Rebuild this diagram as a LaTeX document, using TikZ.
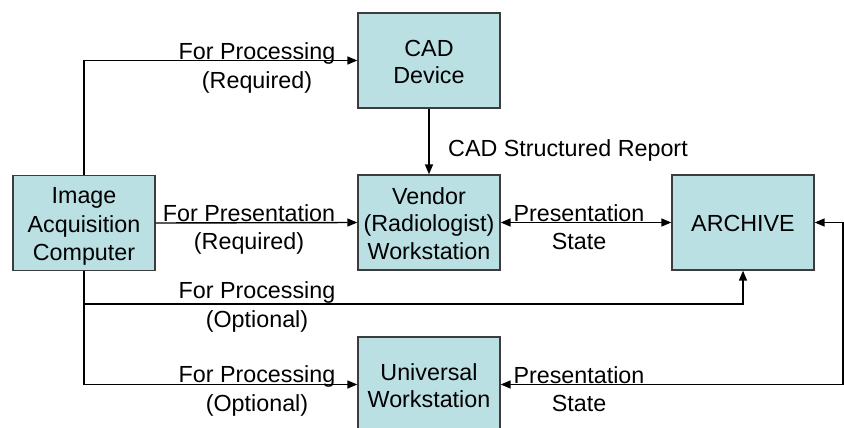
\documentclass[tikz,border=0pt]{standalone}
\usepackage{fontspec}
\setmainfont{Liberation Sans}
\usetikzlibrary{arrows.meta}
\definecolor{boxfill}{RGB}{186,224,228}
\definecolor{boxline}{RGB}{60,60,60}
\newcommand\lnstrut{\rule[-4.15pt]{0pt}{27pt}}
\tikzset{
  unit/.style={x=1pt,y=-1pt},
  box/.style={draw=boxline,line width=1.3pt,fill=boxfill,minimum width=142pt,minimum height=95pt,inner sep=0pt,align=center,font=\fontsize{23.3}{27}\selectfont},
  lbl/.style={align=center,inner sep=0pt,font=\fontsize{23.3}{27.5}\selectfont},
  conn/.style={line width=1.4pt,-{Triangle[length=10pt,width=8pt]}},
  conn2/.style={line width=1.4pt,{Triangle[length=10pt,width=8pt]}-{Triangle[length=10pt,width=8pt]}}
}
\begin{document}
\begin{tikzpicture}[unit]
\useasboundingbox (0,0) rectangle (844,428);
\begin{scope}
\clip (0,0) rectangle (844,428);
\node[box] (iac) at (84,223) {\lnstrut Image\\\lnstrut Acquisition\\\lnstrut Computer};
\node[box] (cad) at (429,60.5) {\lnstrut CAD\\\lnstrut Device};
\node[box] (ven) at (429,222.5) {\lnstrut Vendor\\\lnstrut (Radiologist)\\\lnstrut Workstation};
\node[box] (arc) at (743,222.5) {\lnstrut ARCHIVE};
\node[box] (uni) at (429,384.5) {\lnstrut Universal\\\lnstrut Workstation};
\coordinate (j1) at (84,304);
\coordinate (r1) at (843,222.5);
\draw[conn] (iac.north) |- (cad.west);
\draw[conn] (iac.east) -- (ven.west);
\draw[conn] (cad.south) -- (ven.north);
\draw[conn2] (ven.east) -- (arc.west);
\draw[conn] (iac.south) -- (j1) -| (arc.south);
\draw[conn] (iac.south) |- (uni.west);
\draw[conn2] (arc.east) -- (r1) |- (uni.east);
\node[lbl] (l1) at (257,65) {\lnstrut For Processing\\\lnstrut (Required)};
\node[lbl] (l2) at (249,226.5) {\lnstrut For Presentation\\\lnstrut (Required)};
\node[lbl] (l3) at (257,304) {\lnstrut For Processing\\\lnstrut (Optional)};
\node[lbl] (l4) at (257,388) {\lnstrut For Processing\\\lnstrut (Optional)};
\node[lbl] (l5) at (579,226) {\lnstrut Presentation\\\lnstrut State};
\node[lbl] (l6) at (579,388) {\lnstrut Presentation\\\lnstrut State};
\node[lbl,anchor=west] (l7) at (448,147) {\lnstrut CAD Structured Report};
\end{scope}
\end{tikzpicture}
\end{document}
